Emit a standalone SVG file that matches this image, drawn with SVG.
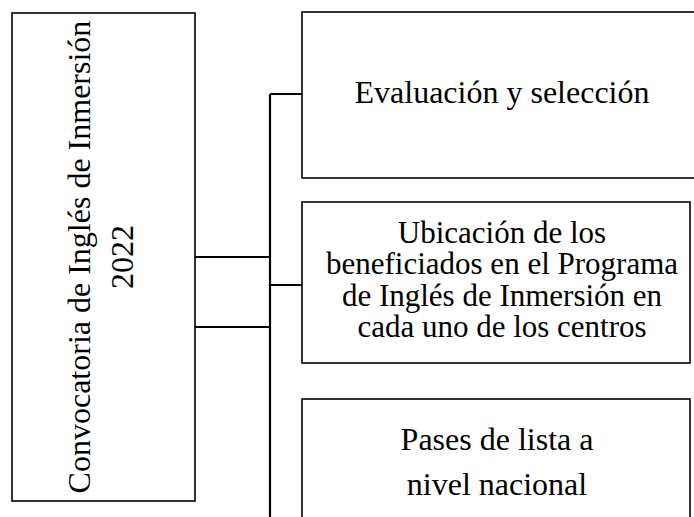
<svg xmlns="http://www.w3.org/2000/svg" width="694" height="517" viewBox="0 0 694 517">
<style>
.box{fill:#fff;stroke:#000;stroke-width:1.6}
.t{fill:#000;text-anchor:middle}
.c{stroke:#000;stroke-width:2.2;fill:none}
</style>
<rect width="694" height="517" fill="#fff"/>
<g id="connectors">
<path class="c" d="M195 257H270M195 327H270M270 94V517M270 94H302M270 285H302"/>
</g>
<g font-family="Liberation Serif, Times New Roman, serif" font-size="32">
<g id="main">
<rect class="box" x="12" y="13" width="183" height="488"/>
<text class="t" transform="translate(90,257) rotate(-90)">Convocatoria de Inglés de Inmersión</text>
<text class="t" transform="translate(133,257) rotate(-90)">2022</text>
</g>
<g id="n1">
<rect class="box" x="302" y="12" width="400" height="166"/>
<text class="t" x="502" y="103">Evaluación y selección</text>
</g>
<g id="n2" font-size="31">
<rect class="box" x="302" y="202" width="388" height="161"/>
<text class="t" x="502" y="243">Ubicación de los</text>
<text class="t" x="502" y="274">beneficiados en el Programa</text>
<text class="t" x="502" y="305.5">de Inglés de Inmersión en</text>
<text class="t" x="502" y="336.5">cada uno de los centros</text>
</g>
<g id="n3">
<rect class="box" x="302" y="399" width="388" height="130"/>
<text class="t" x="497" y="450">Pases de lista a</text>
<text class="t" x="497" y="495">nivel nacional</text>
</g>
</g>
</svg>
